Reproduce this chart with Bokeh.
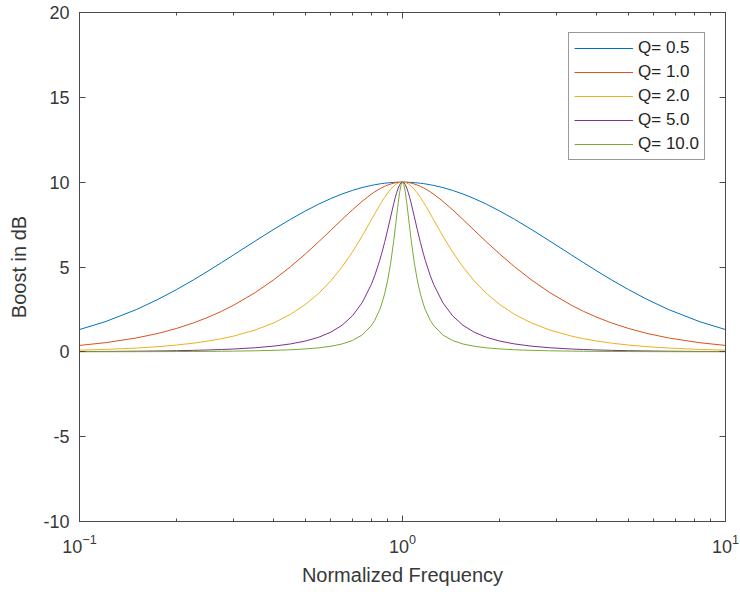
from bokeh.plotting import figure
from bokeh.models import (FixedTicker, LinearAxis, LogAxis, Legend, LegendItem,
                          ColumnDataSource)
from bokeh.embed import file_html
from bokeh.resources import INLINE

# ---- data ----
freq = [0.1, 0.12, 0.15, 0.175, 0.2, 0.225, 0.25, 0.275, 0.3, 0.35, 0.4, 0.45, 0.5, 0.55,
        0.6, 0.65, 0.7, 0.75, 0.8, 0.82, 0.85, 0.86, 0.88, 0.9, 0.92, 0.94, 0.95, 0.96,
        0.97, 0.98, 0.99, 1.0,
        1.0101, 1.0204, 1.0309, 1.0417, 1.0526, 1.0638, 1.087, 1.1111, 1.1364, 1.1628,
        1.1765, 1.2195, 1.25, 1.3333, 1.4286, 1.5385, 1.6667, 1.8182, 2.0, 2.2222, 2.5,
        2.8571, 3.3333, 3.6364, 4.0, 4.4444, 5.0, 5.7143, 6.6667, 8.3333, 10.0]

q_05 = [1.313, 1.772, 2.491, 3.092, 3.676, 4.234, 4.761, 5.255, 5.714, 6.532, 7.227, 7.811,
        8.299, 8.704, 9.035, 9.303, 9.516, 9.682, 9.807, 9.847, 9.897, 9.912, 9.936, 9.957,
        9.973, 9.985, 9.991, 9.994, 9.997, 9.999, 10.0, 10.0,
        10.0, 9.999, 9.997, 9.994, 9.991, 9.985, 9.973, 9.957, 9.936, 9.912, 9.897, 9.847,
        9.807, 9.682, 9.516, 9.303, 9.035, 8.704, 8.299, 7.811, 7.227, 6.532, 5.714, 5.255,
        4.761, 4.234, 3.676, 3.092, 2.491, 1.772, 1.313]
q_10 = [0.378, 0.536, 0.817, 1.086, 1.381, 1.699, 2.034, 2.385, 2.747, 3.493, 4.255, 5.015,
        5.763, 6.484, 7.168, 7.803, 8.375, 8.873, 9.286, 9.426, 9.606, 9.659, 9.752, 9.830,
        9.893, 9.941, 9.959, 9.974, 9.985, 9.994, 9.998, 10.0,
        9.998, 9.994, 9.985, 9.974, 9.959, 9.941, 9.893, 9.830, 9.752, 9.659, 9.606, 9.426,
        9.286, 8.873, 8.375, 7.803, 7.168, 6.484, 5.763, 5.015, 4.255, 3.493, 2.747, 2.385,
        2.034, 1.699, 1.381, 1.086, 0.817, 0.536, 0.378]
q_20 = [0.098, 0.142, 0.223, 0.305, 0.401, 0.510, 0.634, 0.773, 0.927, 1.285, 1.711, 2.210,
        2.788, 3.445, 4.185, 5.003, 5.890, 6.823, 7.762, 8.124, 8.639, 8.800, 9.099, 9.364,
        9.589, 9.768, 9.839, 9.897, 9.942, 9.975, 9.994, 10.0,
        9.994, 9.975, 9.942, 9.897, 9.839, 9.768, 9.589, 9.364, 9.099, 8.800, 8.639, 8.124,
        7.762, 6.823, 5.890, 5.003, 4.185, 3.445, 2.788, 2.210, 1.711, 1.285, 0.927, 0.773,
        0.634, 0.510, 0.401, 0.305, 0.223, 0.142, 0.098]
q_50 = [0.016, 0.023, 0.037, 0.051, 0.067, 0.087, 0.110, 0.136, 0.166, 0.240, 0.338, 0.466,
        0.634, 0.858, 1.158, 1.566, 2.124, 2.893, 3.953, 4.477, 5.386, 5.722, 6.440, 7.207,
        7.996, 8.754, 9.098, 9.402, 9.655, 9.844, 9.961, 10.0,
        9.961, 9.844, 9.655, 9.402, 9.098, 8.754, 7.996, 7.207, 6.440, 5.722, 5.386, 4.477,
        3.953, 2.893, 2.124, 1.566, 1.158, 0.858, 0.634, 0.466, 0.338, 0.240, 0.166, 0.136,
        0.110, 0.087, 0.067, 0.051, 0.037, 0.023, 0.016]
q_100 = [0.004, 0.006, 0.009, 0.013, 0.017, 0.022, 0.028, 0.034, 0.042, 0.062, 0.088, 0.122,
         0.170, 0.235, 0.328, 0.463, 0.669, 0.993, 1.534, 1.849, 2.485, 2.753, 3.402, 4.231,
         5.284, 6.583, 7.310, 8.061, 8.787, 9.413, 9.845, 10.0,
         9.845, 9.413, 8.787, 8.061, 7.310, 6.583, 5.284, 4.231, 3.402, 2.753, 2.485, 1.849,
         1.534, 0.993, 0.669, 0.463, 0.328, 0.235, 0.170, 0.122, 0.088, 0.062, 0.042, 0.034,
         0.028, 0.022, 0.017, 0.013, 0.009, 0.006, 0.004]

series_labels = ["Q= 0.5", "Q= 1.0", "Q= 2.0", "Q= 5.0", "Q= 10.0"]
series_values = [q_05, q_10, q_20, q_50, q_100]
series_colors = ["#0072BD", "#D95319", "#EDB120", "#7E2F8E", "#77AC30"]

x_ticks = [0.1, 1, 10]
x_minor = [0.2, 0.3, 0.4, 0.5, 0.6, 0.7, 0.8, 0.9, 2, 3, 4, 5, 6, 7, 8, 9]
y_ticks = [-10, -5, 0, 5, 10, 15, 20]
y_tick_labels = ["-10", "-5", "0", "5", "10", "15", "20"]

# ---- figure ----
FONT = "Liberation Sans"
AX = "#4a4a4a"
TXT = "#383838"

p = figure(width=740, height=592, x_axis_type="log", x_range=(0.1, 10), y_range=(-10, 20),
           output_backend="svg", toolbar_location=None,
           min_border_left=79, min_border_right=15, min_border_top=12, min_border_bottom=71)
p.xgrid.visible = False
p.ygrid.visible = False
p.outline_line_color = AX
p.outline_line_width = 1
p.background_fill_color = "white"
p.border_fill_color = "white"

renderers = []
for lab, vals, col in zip(series_labels, series_values, series_colors):
    src = ColumnDataSource(dict(x=freq, y=vals))
    r = p.line("x", "y", source=src, line_color=col, line_width=1, line_join="round")
    renderers.append((lab, r))


def style_axis(ax, show_labels=True):
    ax.axis_line_color = AX
    ax.major_tick_line_color = AX
    ax.minor_tick_line_color = AX
    ax.major_tick_out = 0
    ax.major_tick_in = 6
    ax.minor_tick_out = 0
    ax.minor_tick_in = 3
    ax.major_label_text_font = FONT
    ax.major_label_text_font_size = "18px"
    ax.major_label_text_color = TXT
    if not show_labels:
        ax.major_label_text_font_size = "1px"
        ax.major_label_text_alpha = 0.0
        ax.major_label_standoff = 0


xa = p.xaxis[0]
xa.ticker = FixedTicker(ticks=x_ticks, minor_ticks=x_minor)
style_axis(xa)
xa.major_label_standoff = 12
xa.axis_label = "Normalized Frequency"
xa.axis_label_text_font = FONT
xa.axis_label_text_font_size = "20px"
xa.axis_label_text_font_style = "normal"
xa.axis_label_text_color = TXT
xa.axis_label_standoff = 8

ya = p.yaxis[0]
ya.ticker = FixedTicker(ticks=y_ticks, minor_ticks=[])
ya.major_label_overrides = {t: l for t, l in zip(y_ticks, y_tick_labels)}
style_axis(ya)
ya.major_label_standoff = 10
ya.axis_label = "Boost in dB"
ya.axis_label_text_font = FONT
ya.axis_label_text_font_size = "20px"
ya.axis_label_text_font_style = "normal"
ya.axis_label_text_color = TXT
ya.axis_label_standoff = 10

top = LogAxis(ticker=FixedTicker(ticks=x_ticks, minor_ticks=x_minor))
style_axis(top, False)
p.add_layout(top, "above")
right = LinearAxis(ticker=FixedTicker(ticks=y_ticks, minor_ticks=[]))
style_axis(right, False)
p.add_layout(right, "right")

legend = Legend(items=[LegendItem(label=lab, renderers=[r]) for lab, r in renderers],
                location="top_right", margin=20, padding=5, spacing=4,
                glyph_width=59, glyph_height=20, label_height=20, label_standoff=5,
                label_text_font=FONT, label_text_font_size="17px", label_text_color="#262626",
                border_line_color="#333333", border_line_width=1,
                background_fill_color="white", background_fill_alpha=1.0)
p.add_layout(legend, "center")

open("out.html", "w").write(file_html(p, INLINE))
